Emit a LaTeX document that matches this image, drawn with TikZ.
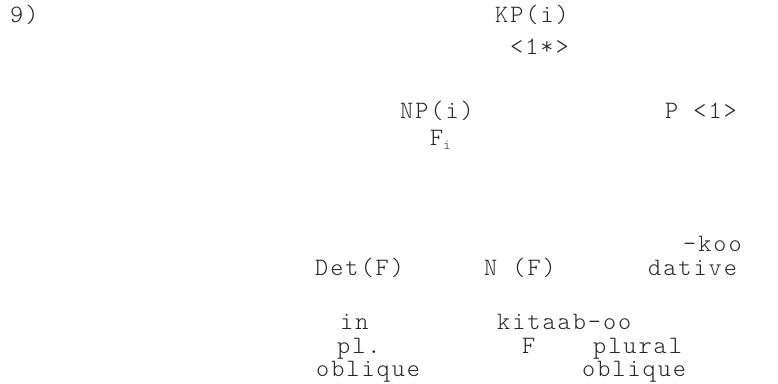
\documentclass[tikz,border=0pt]{standalone}
\usepackage{fontspec}
\newfontfamily\treefont[LetterSpace=8]{lmmonolt10-regular.otf}
\begin{document}
\begin{tikzpicture}[x=1pt,y=-1pt,
  lbl/.style={anchor=base west,inner sep=0pt,font=\treefont\fontsize{25}{28}\selectfont,text=black!85}]
\useasboundingbox (0,0) rectangle (778,383);
\node[lbl] (num)  at (10,22)  {9)};
\node[lbl] (kp)   at (495,22) {KP(i)};
\node[lbl] (kpf)  at (510,54) {<1*>};
\node[lbl] (np)   at (400,118) {NP(i)};
\node[lbl] (npf)  at (430,145) {F\raisebox{-4pt}{\fontsize{14}{14}\selectfont i}};
\node[lbl] (p)    at (665,118) {P <1>};
\node[lbl] (koo)  at (683,251) {-koo};
\node[lbl] (det)  at (315,275) {Det(F)};
\node[lbl] (n)    at (484,275) {N (F)};
\node[lbl] (dat)  at (648,275) {dative};
\node[lbl] (in)   at (340,329) {in};
\node[lbl] (kit)  at (497,329) {kitaab-oo};
\node[lbl] (pl)   at (337,353) {pl.};
\node[lbl] (f)    at (522,353) {F};
\node[lbl] (plu)  at (593,353) {plural};
\node[lbl] (obl1) at (316,376) {oblique};
\node[lbl] (obl2) at (582,376) {oblique};
\end{tikzpicture}
\end{document}
